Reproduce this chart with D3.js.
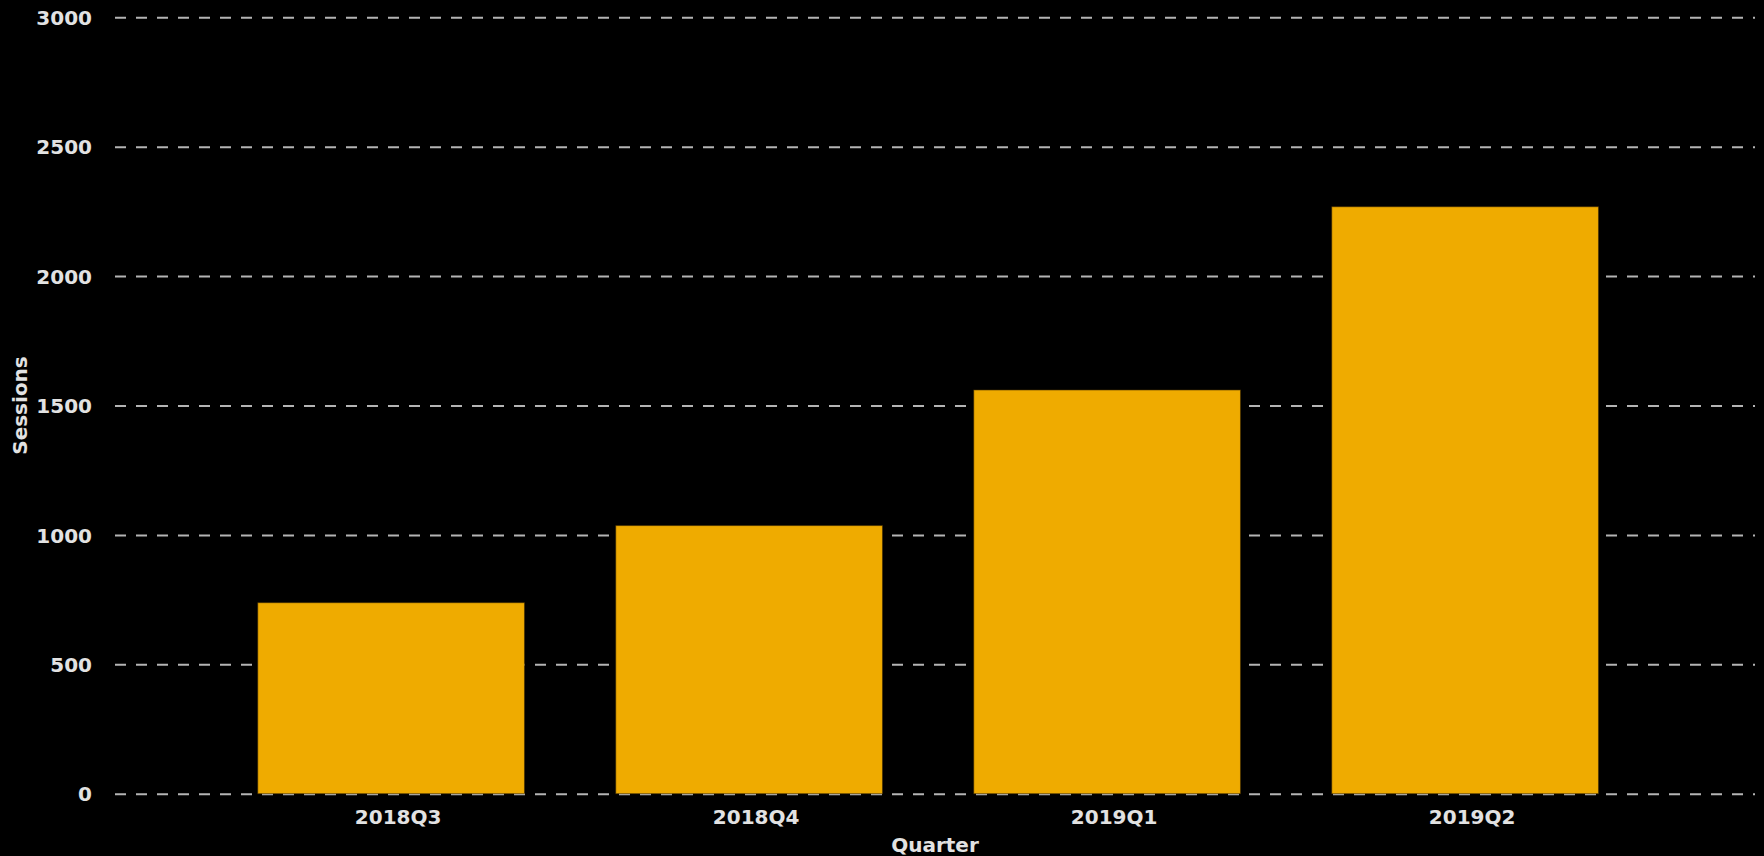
<!DOCTYPE html>
<html>
<head>
<meta charset="utf-8">
<script src="https://cdn.jsdelivr.net/npm/d3@7"></script>
<style>
  html, body { margin: 0; padding: 0; background: #000; }
  svg { display: block; }
  text { font-family: "DejaVu Sans", sans-serif; font-weight: bold; fill: #e2e2e2; }
</style>
</head>
<body>
<svg id="chart" width="1764" height="856"></svg>
<script>
const categories = ["2018Q3", "2018Q4", "2019Q1", "2019Q2"];
const sessions = [738, 1036, 1560, 2268];
const yTicks = [0, 500, 1000, 1500, 2000, 2500, 3000];
const xTitle = "Quarter";
const yTitle = "Sessions";

const W = 1764, H = 856;
const m = { left: 115, right: 9, top: 17.3, bottom: 62.3 };
const svg = d3.select("#chart");
svg.append("rect").attr("width", W).attr("height", H).attr("fill", "#000");

const x = d3.scaleBand()
  .domain(categories)
  .range([m.left, W - m.right])
  .paddingInner(0.255)
  .paddingOuter(0.418)
  .align(0.477);

const y = d3.scaleLinear()
  .domain([0, 3000])
  .range([H - m.bottom, m.top]);

// gridlines
const yAxis = d3.axisLeft(y).tickValues(yTicks).tickSize(-(W - m.right - m.left)).tickPadding(23).tickFormat(d3.format("d"));
const gy = svg.append("g").attr("transform", `translate(${m.left},0)`).call(yAxis);
gy.select(".domain").remove();
gy.selectAll(".tick line")
  .attr("stroke", "#b4b4b4")
  .attr("stroke-width", 2)
  .attr("stroke-dasharray", "11,10");
gy.selectAll(".tick text")
  .attr("font-size", 20)
  .attr("fill", "#e2e2e2")
  .attr("dy", "0.36em");

// bars
svg.append("g").selectAll("rect")
  .data(categories.map((c, i) => ({ c, v: sessions[i] })))
  .join("rect")
  .attr("x", d => x(d.c))
  .attr("y", d => y(d.v))
  .attr("width", x.bandwidth())
  .attr("height", d => y(0) - y(d.v))
  .attr("fill", "#efab00")
  .attr("stroke", "rgba(60,40,0,0.55)")
  .attr("stroke-width", 1);

// x axis labels
const xAxis = d3.axisBottom(x).tickSize(0).tickPadding(0);
const gx = svg.append("g").attr("transform", `translate(7,${H - m.bottom})`).call(xAxis);
gx.select(".domain").remove();
gx.selectAll(".tick text")
  .attr("font-size", 20)
  .attr("fill", "#e2e2e2")
  .attr("dy", null)
  .attr("y", 30);

// axis titles
svg.append("text")
  .attr("x", (m.left + W - m.right) / 2)
  .attr("y", 852)
  .attr("text-anchor", "middle")
  .attr("font-size", 20)
  .text(xTitle);

svg.append("text")
  .attr("transform", `translate(27,${(m.top + H - m.bottom) / 2}) rotate(-90)`)
  .attr("text-anchor", "middle")
  .attr("font-size", 20)
  .text(yTitle);
</script>
</body>
</html>
